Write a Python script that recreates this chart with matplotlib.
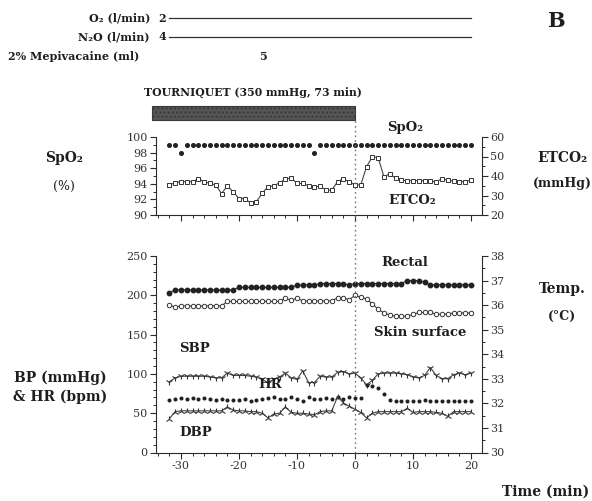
import matplotlib
matplotlib.use('Agg')
import matplotlib.pyplot as plt
from matplotlib.ticker import MultipleLocator, FixedLocator
from matplotlib.patches import Rectangle
from matplotlib.lines import Line2D
import matplotlib.transforms as mtransforms

plt.rcParams['font.family'] = ['DejaVu Serif', 'DejaVu Sans']
plt.rcParams['axes.unicode_minus'] = False

# ---------------- data ----------------
time = [-32, -31, -30, -29, -28, -27, -26, -25, -24, -23, -22, -21, -20, -19, -18, -17,
        -16, -15, -14, -13, -12, -11, -10, -9, -8, -7, -6, -5, -4, -3, -2, -1,
        0, 1, 2, 3, 4, 5, 6, 7, 8, 9, 10, 11, 12, 13, 14, 15, 16, 17, 18, 19, 20]

spo2 = [99, 99, 98, 99, 99, 99, 99, 99, 99, 99, 99, 99, 99, 99, 99, 99,
        99, 99, 99, 99, 99, 99, 99, 99, 99, 98, 99, 99, 99, 99, 99, 99,
        99, 99, 99, 99, 99, 99, 99, 99, 99, 99, 99, 99, 99, 99, 99, 99, 99, 99, 99, 99, 99]

etco2 = [35.4, 36.6, 37.1, 37.1, 37.1, 38.6, 37.1, 36.2, 35.4, 31.0, 34.9, 32.0, 28.4, 28.4, 26.2, 26.8,
         31.1, 34.5, 34.9, 36.6, 38.3, 39.1, 36.2, 36.2, 34.9, 34.2, 34.9, 32.6, 32.8, 37.1, 38.6, 37.1,
         35.4, 35.4, 44.8, 49.9, 49.4, 39.6, 41.2, 38.8, 37.9, 37.6, 37.6, 37.6, 37.6, 37.3, 37.1, 38.6,
         37.9, 37.3, 37.1, 37.1, 37.9]

rectal = [36.50, 36.62, 36.62, 36.62, 36.62, 36.62, 36.62, 36.62, 36.62, 36.62, 36.62, 36.62,
          36.72, 36.72, 36.72, 36.72, 36.72, 36.72, 36.72, 36.72, 36.72, 36.72,
          36.82, 36.82, 36.82, 36.82, 36.88, 36.88, 36.88, 36.88, 36.88, 36.82,
          36.88, 36.88, 36.88, 36.88, 36.88, 36.88, 36.88, 36.88, 36.88,
          37.00, 37.00, 37.00, 36.93, 36.83, 36.83, 36.83, 36.83, 36.83, 36.83, 36.83, 36.83]

skin = [36.00, 35.92, 35.97, 35.97, 35.97, 35.97, 35.97, 35.97, 35.97, 35.97,
        36.15, 36.15, 36.15, 36.15, 36.15, 36.15, 36.15, 36.15, 36.15, 36.15,
        36.28, 36.20, 36.28, 36.17, 36.17, 36.17, 36.17, 36.17, 36.17, 36.30, 36.30, 36.22,
        36.40, 36.32, 36.25, 36.05, 35.83, 35.68, 35.60, 35.55, 35.55, 35.55, 35.62,
        35.70, 35.70, 35.70, 35.63, 35.63, 35.63, 35.68, 35.68, 35.68, 35.68]

sbp = [90, 95, 97, 97, 97, 97, 97, 96, 95, 95, 101, 98, 98, 98, 97, 96,
       93, 89, 93, 96, 101, 95, 93, 104, 89, 89, 97, 96, 96, 102, 103, 100,
       101, 95, 86, 92, 100, 101, 101, 101, 100, 99, 96, 95, 98, 108, 98, 94,
       94, 99, 101, 99, 101]

hr = [67, 68, 69, 68, 69, 68, 69, 68, 67, 68, 67, 67, 67, 68, 66, 67,
      68, 69, 70, 68, 68, 70, 68, 66, 70, 68, 68, 69, 68, 71, 68, 70,
      69, 69, 86, 84, 82, 75, 67, 66, 66, 66, 66, 66, 67, 66, 66, 66,
      66, 66, 65, 66, 66]

dbp = [43, 52, 53, 53, 53, 53, 53, 53, 53, 53, 58, 54, 53, 53, 52, 52,
       50, 44, 49, 50, 58, 51, 50, 50, 49, 48, 52, 53, 53, 71, 63, 59,
       55, 51, 44, 50, 52, 52, 52, 52, 52, 56, 51, 52, 52, 52, 51, 50,
       46, 52, 52, 52, 52]

x_major = [-30, -20, -10, 0, 10, 20]

# ---------------- figure ----------------
W, H = 592, 501
fig = plt.figure(figsize=(W / 100, H / 100), dpi=100)


def fx(px):
    return px / W


def fy(py):
    return 1 - py / H


INK = '#2a2a2a'
ax1 = fig.add_axes([fx(156), fy(215), fx(482) - fx(156), fy(137) - fy(215)])
ax2 = fig.add_axes([fx(156), fy(452.5), fx(482) - fx(156), fy(256) - fy(452.5)])
ax1r = ax1.twinx()
ax2r = ax2.twinx()

for ax in (ax1, ax2):
    ax.set_xlim(-34.3, 21.9)
    ax.xaxis.set_major_locator(FixedLocator(x_major))
    ax.xaxis.set_minor_locator(MultipleLocator(2))
    ax.spines['top'].set_visible(False)
    ax.spines['right'].set_visible(False)
for ax in (ax1r, ax2r):
    ax.spines['top'].set_visible(False)
    ax.spines['left'].set_visible(False)
    ax.spines['bottom'].set_visible(False)
for ax in (ax1, ax2, ax1r, ax2r):
    for s in ax.spines.values():
        s.set_color(INK)
        s.set_linewidth(0.8)
    ax.tick_params(which='major', length=4, width=0.8, color=INK, labelsize=8,
                   labelcolor='#333333', pad=2)
    ax.tick_params(which='minor', length=2.2, width=0.7, color=INK)

ax1.tick_params(axis='x', labelbottom=False)

ax1.set_ylim(90, 100)
ax1.yaxis.set_major_locator(MultipleLocator(2))
ax1.yaxis.set_minor_locator(MultipleLocator(1))
ax1r.set_ylim(20, 60)
ax1r.yaxis.set_major_locator(MultipleLocator(10))
ax1r.yaxis.set_minor_locator(MultipleLocator(5))

ax2.set_ylim(0, 250)
ax2.yaxis.set_major_locator(MultipleLocator(50))
ax2.yaxis.set_minor_locator(MultipleLocator(10))
ax2r.set_ylim(30, 38)
ax2r.yaxis.set_major_locator(MultipleLocator(1))
ax2r.yaxis.set_minor_locator(MultipleLocator(0.5))

# ---------------- series ----------------
ax1.plot(time, spo2, linestyle='none', marker='o', ms=2.6, color='#222222')
ax1r.plot(time, etco2, '-', color='#444444', lw=0.8, marker='s', ms=3.2,
          mfc='white', mec='#333333', mew=0.7)

ax2r.plot(time, rectal, '-', color='#333333', lw=0.8, marker='o', ms=3.2,
          mfc='#222222', mec='#222222')
ax2r.plot(time, skin, '-', color='#444444', lw=0.8, marker='o', ms=3.2,
          mfc='white', mec='#333333', mew=0.7)
ax2.plot(time, sbp, '-', color='#444444', lw=0.8, marker='1', ms=5, mew=0.8,
         mec='#333333')
ax2.plot(time, hr, linestyle='none', marker='o', ms=1.9, color='#222222')
ax2.plot(time, dbp, '-', color='#444444', lw=0.8, marker='2', ms=5, mew=0.8,
         mec='#333333')

# ---------------- annotations ----------------
bold = dict(fontweight='bold', color='#1e1e1e')

# treatment lines
blend = mtransforms.blended_transform_factory(ax1.transData, fig.transFigure)
fig.add_artist(Line2D([-32, 20], [fy(18), fy(18)], transform=blend, color='#333333', lw=0.9))
fig.add_artist(Line2D([-32, 20], [fy(37), fy(37)], transform=blend, color='#333333', lw=0.9))
fig.text(fx(150), fy(18), 'O₂ (l/min)', ha='right', va='center', fontsize=8, **bold)
fig.text(fx(162), fy(18), '2', ha='center', va='center', fontsize=8, **bold)
fig.text(fx(150), fy(37), 'N₂O (l/min)', ha='right', va='center', fontsize=8, **bold)
fig.text(fx(162), fy(37), '4', ha='center', va='center', fontsize=8, **bold)
fig.text(fx(8), fy(56), '2% Mepivacaine (ml)', ha='left', va='center', fontsize=8, **bold)
fig.text(fx(263), fy(56), '5', ha='center', va='center', fontsize=8, **bold)
fig.text(fx(556), fy(21), 'B', ha='center', va='center', fontsize=15, **bold)

# tourniquet bar
fig.text(fx(253), fy(92), 'TOURNIQUET (350 mmHg, 73 min)', ha='center', va='center',
         fontsize=7.8, **bold)
fig.add_artist(Rectangle((-35, fy(120)), 35, fy(106) - fy(120), transform=blend,
                         facecolor='#555555', edgecolor='#3a3a3a', lw=0.8, hatch='....'))

# dotted vertical line at time 0
x0 = fig.transFigure.inverted().transform(ax2.transData.transform((0, 0)))[0]
fig.add_artist(Line2D([x0, x0], [fy(452.5), fy(120)], transform=fig.transFigure,
                      color='#777777', lw=1.0, linestyle=(0, (1.2, 2.2)), zorder=10))

# axis titles
fig.text(fx(64), fy(158), 'SpO₂', ha='center', va='center', fontsize=10, **bold)
fig.text(fx(64), fy(186), '(%)', ha='center', va='center', fontsize=9, color='#1e1e1e')
fig.text(fx(562), fy(158), 'ETCO₂', ha='center', va='center', fontsize=10, **bold)
fig.text(fx(562), fy(184), '(mmHg)', ha='center', va='center', fontsize=9, **bold)
fig.text(fx(562), fy(289), 'Temp.', ha='center', va='center', fontsize=10, **bold)
fig.text(fx(562), fy(316), '(°C)', ha='center', va='center', fontsize=9, **bold)
fig.text(fx(60), fy(378), 'BP (mmHg)', ha='center', va='center', fontsize=10, **bold)
fig.text(fx(60), fy(397), '& HR (bpm)', ha='center', va='center', fontsize=10, **bold)
fig.text(fx(589), fy(492), 'Time (min)', ha='right', va='center', fontsize=10, **bold)

# in-plot labels
fig.text(fx(405), fy(128), 'SpO₂', ha='center', va='center', fontsize=9.5, **bold)
fig.text(fx(412), fy(200), 'ETCO₂', ha='center', va='center', fontsize=9.5, **bold)
fig.text(fx(405), fy(262), 'Rectal', ha='center', va='center', fontsize=9.5, **bold)
fig.text(fx(420), fy(333), 'Skin surface', ha='center', va='center', fontsize=9.5, **bold)
fig.text(fx(194), fy(348), 'SBP', ha='center', va='center', fontsize=9.5, **bold)
fig.text(fx(270), fy(385), 'HR', ha='center', va='center', fontsize=9.5, **bold)
fig.text(fx(196), fy(432), 'DBP', ha='center', va='center', fontsize=9.5, **bold)

fig.savefig('out.png', dpi=100)
